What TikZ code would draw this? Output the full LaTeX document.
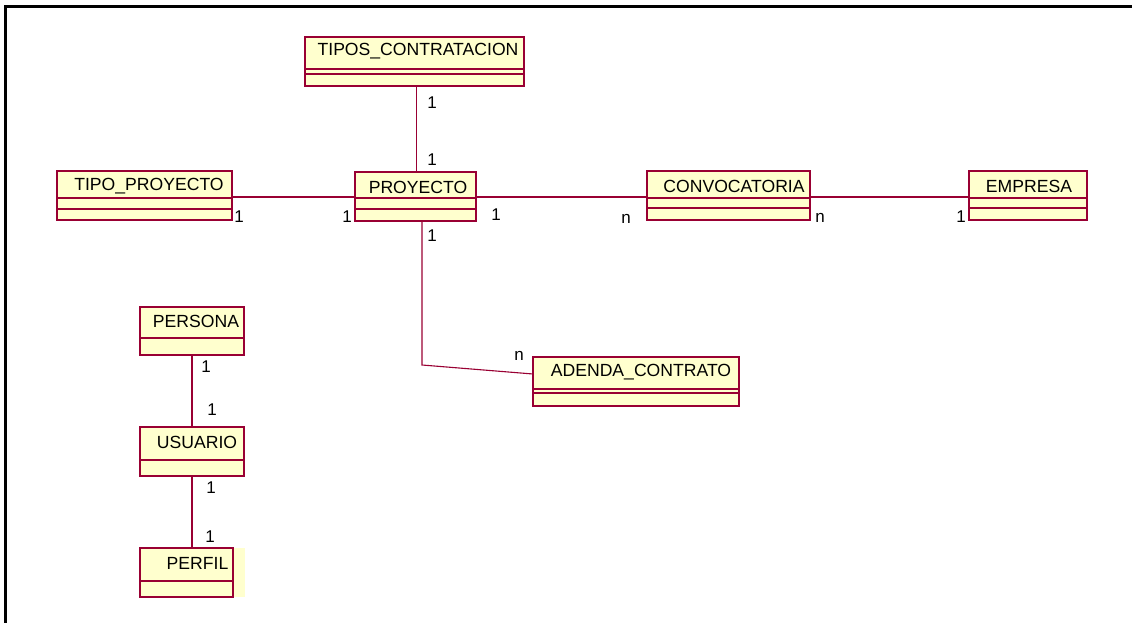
\documentclass[tikz,border=0pt]{standalone}
\usepackage{fontspec}
\setmainfont{Liberation Sans}
\usetikzlibrary{positioning}
\definecolor{clsfill}{RGB}{255,255,206}
\definecolor{clsline}{RGB}{153,0,51}
\tikzset{
  clsbox/.style={draw=clsline, fill=clsfill, line width=1.4pt, anchor=north west,
    inner sep=0pt, outer sep=0pt},
  clsname/.style={font=\fontsize{17.6}{20}\selectfont, inner sep=0pt, anchor=center},
  divider/.style={draw=clsline, line width=1.1pt},
  assoc/.style={draw=clsline, line width=1.1pt},
  mult/.style={font=\fontsize{17}{20}\selectfont, inner sep=0pt, anchor=center},
}
\begin{document}
\begin{tikzpicture}[x=1pt, y=-1pt]
\useasboundingbox (0,0) rectangle (1132,623);
% outer frame (top and left edges)
\draw[line width=3pt] (5,623) -- (5,7) -- (1132,7);

% TIPOS_CONTRATACION
\node[clsbox, minimum width=219pt, minimum height=49pt] (tc) at (305,37) {};
\draw[divider] ([yshift=-32pt]tc.north west) -- ([yshift=-32pt]tc.north east);
\draw[divider] ([yshift=-37pt]tc.north west) -- ([yshift=-37pt]tc.north east);
\node[clsname] (tcn) at (418,51) {TIPOS\_CONTRATACION};

% TIPO_PROYECTO
\node[clsbox, minimum width=175pt, minimum height=49pt] (tp) at (57,171) {};
\draw[divider] ([yshift=-27pt]tp.north west) -- ([yshift=-27pt]tp.north east);
\draw[divider] ([yshift=-38pt]tp.north west) -- ([yshift=-38pt]tp.north east);
\node[clsname] (tpn) at (149,186) {TIPO\_PROYECTO};

% PROYECTO
\node[clsbox, minimum width=121pt, minimum height=49pt] (pr) at (355,172) {};
\draw[divider] ([yshift=-26pt]pr.north west) -- ([yshift=-26pt]pr.north east);
\draw[divider] ([yshift=-37pt]pr.north west) -- ([yshift=-37pt]pr.north east);
\node[clsname] (prn) at (418,187) {PROYECTO};

% CONVOCATORIA
\node[clsbox, minimum width=163pt, minimum height=49pt] (cv) at (647,171) {};
\draw[divider] ([yshift=-27pt]cv.north west) -- ([yshift=-27pt]cv.north east);
\draw[divider] ([yshift=-37pt]cv.north west) -- ([yshift=-37pt]cv.north east);
\node[clsname] (cvn) at (734,186) {CONVOCATORIA};

% EMPRESA
\node[clsbox, minimum width=118pt, minimum height=49pt] (em) at (969,171) {};
\draw[divider] ([yshift=-27pt]em.north west) -- ([yshift=-27pt]em.north east);
\draw[divider] ([yshift=-37pt]em.north west) -- ([yshift=-37pt]em.north east);
\node[clsname] (emn) at (1029,186) {EMPRESA};

% ADENDA_CONTRATO
\node[clsbox, minimum width=206pt, minimum height=49pt] (ad) at (533,357) {};
\draw[divider] ([yshift=-32pt]ad.north west) -- ([yshift=-32pt]ad.north east);
\draw[divider] ([yshift=-36pt]ad.north west) -- ([yshift=-36pt]ad.north east);
\node[clsname] (adn) at (641,372) {ADENDA\_CONTRATO};

% PERSONA
\node[clsbox, minimum width=104pt, minimum height=48pt] (pe) at (140,307) {};
\draw[divider] ([yshift=-31pt]pe.north west) -- ([yshift=-31pt]pe.north east);
\node[clsname] (pen) at (196,321) {PERSONA};

% USUARIO
\node[clsbox, minimum width=104pt, minimum height=49pt] (us) at (140,427) {};
\draw[divider] ([yshift=-33pt]us.north west) -- ([yshift=-33pt]us.north east);
\node[clsname] (usn) at (197,442) {USUARIO};

% PERFIL (fill runs a little past its right border)
\fill[clsfill] (233,548) rectangle (245,597);
\node[clsbox, minimum width=93pt, minimum height=49pt] (pf) at (140,548) {};
\draw[divider] ([yshift=-33pt]pf.north west) -- ([yshift=-33pt]pf.north east);
\node[clsname] (pfn) at (197.5,563) {PERFIL};

% associations
\draw[assoc] ([xshift=2pt]tc.south) -- ([xshift=2pt]tc.south |- pr.north);
\draw[assoc] ([yshift=-26pt]tp.north east) -- ([yshift=-25pt]pr.north west);
\draw[assoc] ([yshift=-25pt]pr.north east) -- ([yshift=-26pt]cv.north west);
\draw[assoc] ([yshift=-26pt]cv.north east) -- ([yshift=-26pt]em.north west);
\coordinate (bend) at (422,365);
\draw[assoc] (pr.south -| bend) -- (bend) -- ([yshift=-17pt]ad.north west);
\draw[assoc] ([xshift=-0pt]pe.south -| 192,0) -- (us.north -| 192,0);
\draw[assoc] (us.south -| 192,0) -- (pf.north -| 192,0);

% multiplicities
\node[mult] (m1) at (432,103) {1};
\node[mult] (m2) at (432,160) {1};
\node[mult] (m3) at (239,217) {1};
\node[mult] (m4) at (347,217) {1};
\node[mult] (m5) at (496,215) {1};
\node[mult] (m6) at (626,219) {n};
\node[mult] (m7) at (820,218) {n};
\node[mult] (m8) at (961,217) {1};
\node[mult] (m9) at (432,236) {1};
\node[mult] (m10) at (519,356) {n};
\node[mult] (m11) at (206,367) {1};
\node[mult] (m12) at (212,410) {1};
\node[mult] (m13) at (211,488) {1};
\node[mult] (m14) at (210,537) {1};
\end{tikzpicture}
\end{document}
